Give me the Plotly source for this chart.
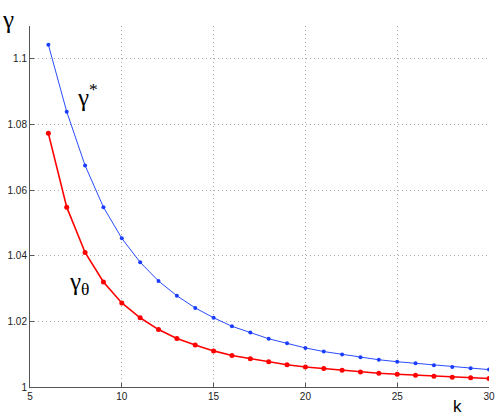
import plotly.graph_objects as go

k = list(range(6, 31))
gamma_star = [1.1043, 1.0839, 1.0675, 1.0548, 1.0453, 1.0380, 1.0323, 1.0278, 1.0241, 1.0211,
              1.0185, 1.0166, 1.0147, 1.0133, 1.0119, 1.0108, 1.0099, 1.0091, 1.0083, 1.0077,
              1.0072, 1.0066, 1.0061, 1.0057, 1.0053]
gamma_theta = [1.0773, 1.0548, 1.0410, 1.0320, 1.0256, 1.0211, 1.0175, 1.0148, 1.0128, 1.0110,
               1.0096, 1.0086, 1.0077, 1.0068, 1.0061, 1.0056, 1.0051, 1.0046, 1.0042, 1.0039,
               1.0036, 1.0033, 1.0030, 1.0028, 1.0026]
x_ticks = [5, 10, 15, 20, 25, 30]
y_ticks = [1, 1.02, 1.04, 1.06, 1.08, 1.1]
y_tick_text = ["1", "1.02", "1.04", "1.06", "1.08", "1.1"]

fig = go.Figure()
fig.add_trace(go.Scatter(x=k, y=gamma_star, mode="lines+markers",
                         line=dict(color="#2a4cff", width=1),
                         marker=dict(color="#1a3cff", size=4)))
fig.add_trace(go.Scatter(x=k, y=gamma_theta, mode="lines+markers",
                         line=dict(color="#ff0000", width=1.6),
                         marker=dict(color="#ff0000", size=5)))

axis_common = dict(showline=True, linecolor="#555555", linewidth=1, ticks="inside",
                   ticklen=4, tickcolor="#555555", showgrid=True, gridcolor="#aaaaaa",
                   griddash="1px,3px", gridwidth=1, zeroline=False, automargin=False,
                   tickfont=dict(family="Liberation Sans, Arial, sans-serif", size=10, color="#222222"))

fig.update_layout(
    width=498, height=417,
    margin=dict(l=30, r=9, t=26, b=30),
    plot_bgcolor="white", paper_bgcolor="white",
    showlegend=False,
    xaxis=dict(range=[5, 30], tickvals=x_ticks, **axis_common),
    yaxis=dict(range=[1, 1.11], tickvals=y_ticks, ticktext=y_tick_text, **axis_common),
)

lab_font = dict(family="Liberation Serif, DejaVu Serif, serif", color="black")
fig.add_annotation(text="γ", xref="paper", yref="paper", x=-0.048, y=1.017,
                   xanchor="center", yanchor="middle", showarrow=False, font=dict(size=25, **lab_font))
fig.add_annotation(text="γ<sup>*</sup>", xref="paper", yref="paper", x=0.126, y=0.81,
                   xanchor="center", yanchor="middle", showarrow=False, font=dict(size=25, **lab_font))
fig.add_annotation(text="γ<sub>θ</sub>", xref="paper", yref="paper", x=0.107, y=0.288,
                   xanchor="center", yanchor="middle", showarrow=False, font=dict(size=25, **lab_font))
fig.add_annotation(text="k", xref="paper", yref="paper", x=0.932, y=-0.055,
                   xanchor="center", yanchor="middle", showarrow=False,
                   font=dict(size=17, family="Liberation Sans, Arial, sans-serif", color="black"))

fig.write_html("out.html", config={"displayModeBar": False},
               post_script="document.body.style.margin='0';document.body.style.overflow='hidden';")
